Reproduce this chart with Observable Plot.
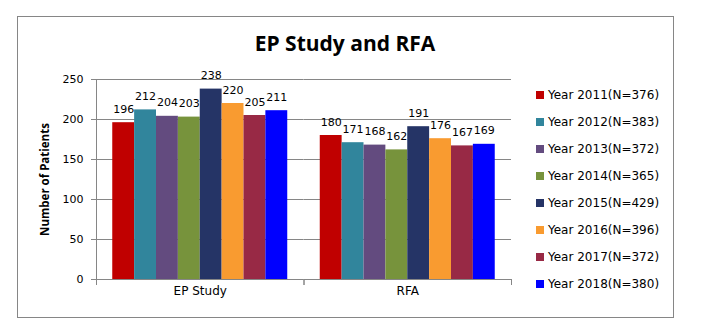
<!DOCTYPE html>
<html>
<head>
<meta charset="utf-8">
<script src="https://cdn.jsdelivr.net/npm/d3@7"></script>
<script src="https://cdn.jsdelivr.net/npm/@observablehq/plot@0.6"></script>
<style>
  html, body { margin: 0; padding: 0; background: #fff; }
  #wrap { position: relative; width: 703px; height: 329px; overflow: hidden; font-family: "DejaVu Sans", sans-serif; }
  #border { position: absolute; left: 17px; top: 16px; width: 655px; height: 300px; border: 1px solid #868686; }
  #title { position: absolute; left: 0; width: 690px; top: 29px; text-align: center; font-family: "Open Sans", sans-serif; font-weight: 700; font-size: 21px; line-height: 28px; color: #000; }
  #chart { position: absolute; left: 0; top: 0; }
  #legend { position: absolute; left: 536px; top: 81px; }
  .item { height: 27px; display: flex; align-items: center; font-size: 12px; color: #000; white-space: nowrap; }
  .sw { width: 8px; height: 8px; margin-right: 4px; flex: none; }
</style>
</head>
<body>
<div id="wrap">
  <div id="border"></div>
  <div id="title"></div>
  <div id="chart"></div>
  <div id="legend"></div>
</div>
<script>
const title = "EP Study and RFA";
const yLabel = "Number of Patients";
const categories = ["EP Study", "RFA"];
const series = ["Year 2011(N=376)", "Year 2012(N=383)", "Year 2013(N=372)", "Year 2014(N=365)",
                "Year 2015(N=429)", "Year 2016(N=396)", "Year 2017(N=372)", "Year 2018(N=380)"];
const epStudy = [196, 212, 204, 203, 238, 220, 205, 211];
const rfa = [180, 171, 168, 162, 191, 176, 167, 169];
const colors = ["#C00000", "#31859C", "#634B7F", "#77933C", "#253466", "#F99B30", "#982945", "#0000FF"];
const yTicks = [0, 50, 100, 150, 200, 250];

const values = {"EP Study": epStudy, "RFA": rfa};
const data = categories.flatMap(cat => series.map((s, i) => ({cat, series: s, value: values[cat][i]})));

document.getElementById("title").textContent = title;

const grey = "#868686";
const chart = Plot.plot({
  width: 703,
  height: 329,
  marginLeft: 96,
  marginRight: 192,
  marginTop: 79,
  marginBottom: 50,
  style: {background: "transparent", fontFamily: "DejaVu Sans", overflow: "visible"},
  fx: {domain: categories, paddingInner: 0, paddingOuter: 0, round: false},
  x: {domain: series, axis: null, paddingInner: 0, paddingOuter: 0.743, round: false},
  y: {domain: [0, 250]},
  color: {domain: series, range: colors},
  marks: [
    Plot.gridY(yTicks.filter(d => d > 0), {stroke: grey, strokeOpacity: 1}),
    Plot.barY(data, {fx: "cat", x: "series", y: "value", fill: "series"}),
    Plot.ruleY([0], {stroke: grey}),
    Plot.frame({anchor: "left", facet: "super", stroke: grey}),
    Plot.frame({anchor: "left", stroke: grey, insetTop: 200, insetBottom: -5}),
    Plot.frame({anchor: "right", stroke: grey, insetTop: 200, insetBottom: -5}),
    Plot.axisY({ticks: yTicks, tickSize: 5, tickPadding: 8, stroke: grey, fill: "#000", fontSize: 11, label: null}),
    Plot.axisFx({anchor: "bottom", tickSize: 0, tickPadding: 7, fontSize: 12, fill: "#000", label: null}),
    Plot.text(data, {fx: "cat", x: "series", y: "value", text: d => String(d.value), dy: -10, lineAnchor: "bottom", fontSize: 11, fill: "#000"}),
    Plot.text([yLabel], {frameAnchor: "left", textAnchor: "middle", facet: "super", rotate: -90, dx: -51, fontWeight: "bold", fontSize: 11.5, fontFamily: "Open Sans", fill: "#000"})
  ]
});
document.getElementById("chart").appendChild(chart);

const legend = document.getElementById("legend");
series.forEach((s, i) => {
  const row = document.createElement("div");
  row.className = "item";
  const sw = document.createElement("span");
  sw.className = "sw";
  sw.style.background = colors[i];
  const t = document.createElement("span");
  t.textContent = s;
  row.appendChild(sw);
  row.appendChild(t);
  legend.appendChild(row);
});
</script>
</body>
</html>
